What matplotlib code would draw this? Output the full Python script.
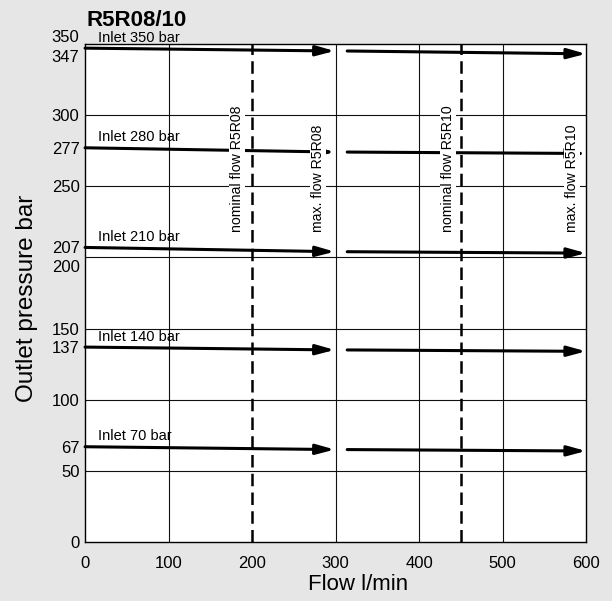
import matplotlib
matplotlib.use("Agg")
import matplotlib.pyplot as plt
from matplotlib.transforms import ScaledTranslation

# ── Data ──────────────────────────────────────────────────────────────────────
inlet_bar = [350, 280, 210, 140, 70]
p_start = [347, 277, 207, 137, 67]      # outlet pressure at 0 l/min
p_mid = [345, 274, 204, 135, 65]        # at max flow R5R08 (300 l/min)
p_end = [343, 273, 203, 134, 64]        # at max flow R5R10 (600 l/min)

flow_mid = 299
flow_restart = 314
flow_max = 600

ytick_vals = [0, 50, 67, 100, 137, 150, 200, 207, 250, 277, 300, 347, 350]
ytick_shift = {350: 8, 347: -8, 200: -9}  # px offsets so labels don't collide
grid_y = [50, 100, 150, 200, 250, 300]
xticks = [0, 100, 200, 300, 400, 500, 600]
grid_x = [100, 300, 400, 500]

nominal = [(200, "nominal flow R5R08", 182), (450, "nominal flow R5R10", 435)]
maxflow = [("max. flow R5R08", 279), ("max. flow R5R10", 583)]

BG = "#e6e6e6"
plt.rcParams["font.family"] = ["Liberation Sans", "DejaVu Sans"]

fig = plt.figure(figsize=(6.12, 6.01), dpi=100, facecolor=BG)
ax = fig.add_axes([0.139, 0.098, 0.8185, 0.829])
ax.set_facecolor("white")
ax.set_xlim(0, 600)
ax.set_ylim(0, 350)

for s in ax.spines.values():
    s.set_linewidth(1.0)

# grid
for y in grid_y:
    ax.axhline(y, color="#111111", lw=0.8, zorder=1)
for x in grid_x:
    ax.axvline(x, color="#111111", lw=0.8, zorder=1)
for x, _, _ in nominal:
    ax.axvline(x, color="black", lw=1.8, ls=(0, (5, 2.5)), zorder=2)

# pressure curves
arrow = dict(arrowstyle="-|>,head_length=1.1,head_width=0.3", lw=2.2,
             color="black", mutation_scale=10, shrinkA=0, shrinkB=0)
for ib, a, b, c in zip(inlet_bar, p_start, p_mid, p_end):
    ax.annotate("", xy=(flow_mid, b), xytext=(0, a), arrowprops=arrow, zorder=4)
    ax.annotate("", xy=(flow_max, c), xytext=(flow_restart, b),
                arrowprops=arrow, zorder=4, annotation_clip=False)
    ax.text(15, a + 2.5, f"Inlet {ib} bar", fontsize=10.5, va="bottom",
            ha="left", zorder=5)

# vertical labels
for x, label, tx in nominal:
    ax.text(tx, 218, label, rotation=90, fontsize=10.2, ha="center",
            va="bottom", zorder=6,
            bbox=dict(facecolor="white", edgecolor="none", pad=0.8))
for label, tx in maxflow:
    ax.text(tx, 218, label, rotation=90, fontsize=10.2, ha="center",
            va="bottom", zorder=6,
            bbox=dict(facecolor="white", edgecolor="none", pad=0.8))

# ticks
ax.set_yticks(ytick_vals)
ax.set_yticklabels([str(v) for v in ytick_vals], fontsize=12)
ax.set_xticks(xticks)
ax.set_xticklabels([str(v) for v in xticks], fontsize=12)
ax.tick_params(axis="y", length=0, pad=4)
ax.tick_params(axis="x", length=0, pad=10)
for v, lab in zip(ytick_vals, ax.get_yticklabels()):
    dy = ytick_shift.get(v, 0)
    if dy:
        lab.set_transform(lab.get_transform() +
                          ScaledTranslation(0, dy / 100, fig.dpi_scale_trans))

fig.text(0.503, 0.018, "Flow l/min", fontsize=16, ha="left", va="baseline")
ax.set_ylabel("Outlet pressure bar", fontsize=17.5)
ax.yaxis.set_label_coords(-0.093, 0.49)
fig.text(0.141, 0.948, "R5R08/10", fontsize=16, fontweight="bold",
         ha="left", va="bottom")

fig.savefig("out.png", dpi=100, facecolor=BG)
